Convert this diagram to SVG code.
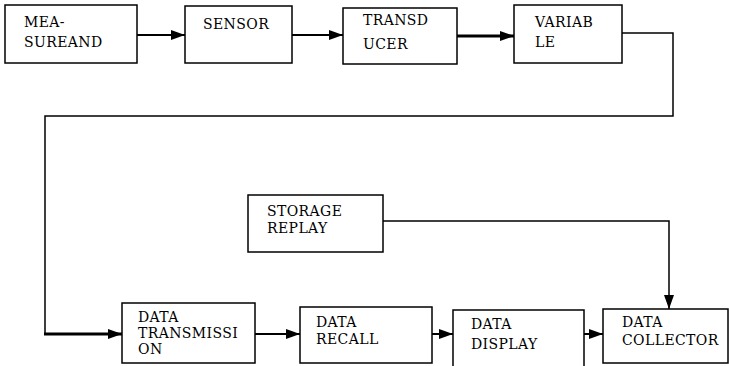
<svg xmlns="http://www.w3.org/2000/svg" width="729" height="366" viewBox="0 0 729 366">
<style>
.box{fill:#fff;stroke:#000;stroke-width:1.5}
.t{font-family:'DejaVu Serif','Liberation Serif',serif;font-size:14px;letter-spacing:0.4px;fill:#000}
.c{fill:none;stroke:#000;stroke-width:1.5}
.c2{fill:none;stroke:#000;stroke-width:2}
.c3{fill:none;stroke:#000;stroke-width:3}
</style>
<defs>
<marker id="ah" markerUnits="userSpaceOnUse" markerWidth="14" markerHeight="10" refX="14" refY="5" orient="auto">
<path d="M0,0 L14,5 L0,10 z" fill="#000"/>
</marker>
</defs>
<rect width="729" height="366" fill="#fff"/>
<g id="connectors">
<line class="c2" x1="137" y1="35" x2="185" y2="35" marker-end="url(#ah)"/>
<line class="c2" x1="292" y1="35" x2="343" y2="35" marker-end="url(#ah)"/>
<line class="c3" x1="457" y1="36" x2="514" y2="36" marker-end="url(#ah)"/>
<polyline class="c" points="622,33 673,33 673,116 45,116 45,334"/>
<line class="c3" x1="44" y1="334" x2="122" y2="334" marker-end="url(#ah)"/>
<polyline class="c" points="383,221 669,221 669,309" marker-end="url(#ah)"/>
<line class="c2" x1="255" y1="334" x2="300" y2="334" marker-end="url(#ah)"/>
<line class="c2" x1="432" y1="334" x2="453" y2="334" marker-end="url(#ah)"/>
<line class="c2" x1="584" y1="334" x2="603" y2="334" marker-end="url(#ah)"/>
</g>
<g id="measureand">
<rect class="box" x="5" y="5" width="132" height="58"/>
<text class="t" x="24" y="27">MEA-</text>
<text class="t" x="24" y="47">SUREAND</text>
</g>
<g id="sensor">
<rect class="box" x="185" y="6" width="107" height="57"/>
<text class="t" x="203" y="29">SENSOR</text>
</g>
<g id="transducer">
<rect class="box" x="343" y="8" width="114" height="56"/>
<text class="t" x="363" y="25">TRANSD</text>
<text class="t" x="363" y="49">UCER</text>
</g>
<g id="variable">
<rect class="box" x="514" y="5" width="108" height="58"/>
<text class="t" x="535" y="27">VARIAB</text>
<text class="t" x="535" y="47">LE</text>
</g>
<g id="storage-replay">
<rect class="box" x="248" y="195" width="135" height="57"/>
<text class="t" x="267" y="216">STORAGE</text>
<text class="t" x="267" y="233">REPLAY</text>
</g>
<g id="data-transmission">
<rect class="box" x="122" y="303" width="133" height="60"/>
<text class="t" x="138" y="322">DATA</text>
<text class="t" x="138" y="338">TRANSMISSI</text>
<text class="t" x="138" y="354">ON</text>
</g>
<g id="data-recall">
<rect class="box" x="300" y="307" width="132" height="56"/>
<text class="t" x="316" y="327">DATA</text>
<text class="t" x="316" y="344">RECALL</text>
</g>
<g id="data-display">
<rect class="box" x="453" y="310" width="131" height="60"/>
<text class="t" x="471" y="329">DATA</text>
<text class="t" x="471" y="349">DISPLAY</text>
</g>
<g id="data-collector">
<rect class="box" x="603" y="309" width="125" height="54"/>
<text class="t" x="622" y="327">DATA</text>
<text class="t" x="622" y="345">COLLECTOR</text>
</g>
</svg>
